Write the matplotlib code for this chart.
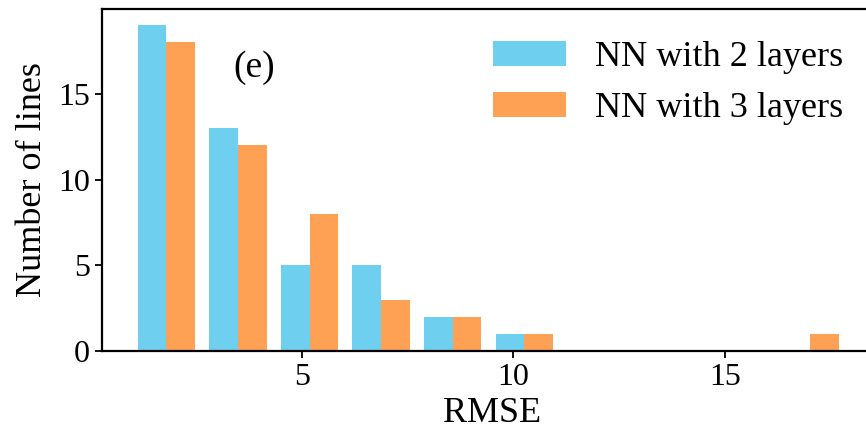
import matplotlib
matplotlib.use("Agg")
import matplotlib.pyplot as plt
import numpy as np

plt.rcParams['font.family'] = ['Liberation Serif', 'DejaVu Serif']

# Histogram data
bin_edges = [0.94, 2.63, 4.33, 6.02, 7.71, 9.41, 11.10, 12.79, 14.49, 16.18, 17.87]
counts_2_layers = [19, 13, 5, 5, 2, 1, 0, 0, 0, 0]
counts_3_layers = [18, 12, 8, 3, 2, 1, 0, 0, 0, 1]
labels = ["NN with 2 layers", "NN with 3 layers"]
colors = ["#6ECFEE", "#FFA154"]
xticks = [5, 10, 15]
yticks = [0, 5, 10, 15]

W, H = 866, 429
fig = plt.figure(figsize=(W / 100, H / 100), dpi=100)
left_px, right_px, top_px, bottom_px = 102, 882, 9, 351
ax = fig.add_axes([left_px / W, 1 - bottom_px / H,
                   (right_px - left_px) / W, (bottom_px - top_px) / H])

edges = np.array(bin_edges)
centers = (edges[:-1] + edges[1:]) / 2
ax.hist([centers, centers], bins=edges,
        weights=[counts_2_layers, counts_3_layers],
        color=colors, label=labels)

ax.set_xlim(0.265, 18.72)
ax.set_ylim(0, 19.95)
ax.set_xticks(xticks)
ax.set_yticks(yticks)
ax.tick_params(labelsize=23, width=1.3, length=5)
for s in ax.spines.values():
    s.set_linewidth(1.6)

ax.set_xlabel("RMSE", fontsize=26, labelpad=3.5)
ax.set_ylabel("Number of lines", fontsize=26, labelpad=7)

fig.text(254 / W, 1 - 68 / H, "(e)", fontsize=27, ha='center', va='center')

leg = ax.legend(loc='upper left', bbox_to_anchor=(493 / W, 1 - 41 / H),
                bbox_transform=fig.transFigure, frameon=False, fontsize=26,
                handlelength=2.03, handleheight=0.67, handletextpad=0.8,
                labelspacing=0.5, borderpad=0, borderaxespad=0)

fig.savefig("out.png", dpi=100)
